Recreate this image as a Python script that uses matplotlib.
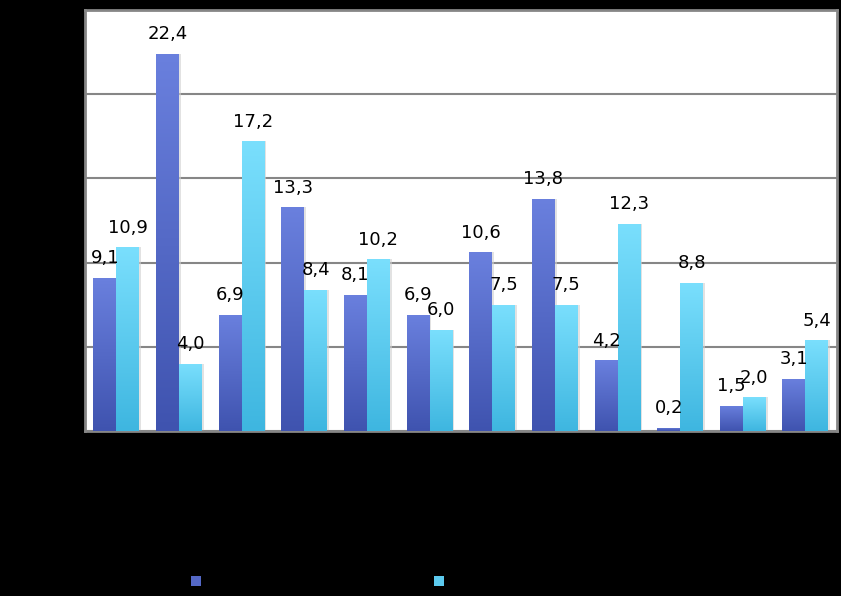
import numpy as np
import matplotlib
matplotlib.use("Agg")
import matplotlib.pyplot as plt
from matplotlib.lines import Line2D
from matplotlib.colors import LinearSegmentedColormap

categories = [str(i) for i in range(1, 13)]
series1_name = "Series 1"
series2_name = "Series 2"
series1 = [9.1, 22.4, 6.9, 13.3, 8.1, 6.9, 10.6, 13.8, 4.2, 0.2, 1.5, 3.1]
series2 = [10.9, 4.0, 17.2, 8.4, 10.2, 6.0, 7.5, 7.5, 12.3, 8.8, 2.0, 5.4]

fig = plt.figure(figsize=(8.41, 5.96), dpi=100, facecolor="black")
ax = fig.add_axes([0.101, 0.277, 0.894, 0.706])
ax.set_facecolor("white")

x = np.arange(len(categories))
w = 0.367
cmap1 = LinearSegmentedColormap.from_list("c1", ["#3F53AF", "#6A80DE"])
cmap2 = LinearSegmentedColormap.from_list("c2", ["#3EB6E0", "#7ADFFD"])
grad = np.linspace(0, 1, 256).reshape(-1, 1)

def draw(vals, offset, cmap, midcol):
    bars = ax.bar(x + offset, vals, w, color=midcol, zorder=3, linewidth=0)
    for b, v in zip(bars, vals):
        x0 = b.get_x()
        im = ax.imshow(grad, cmap=cmap, origin="lower", aspect="auto",
                       extent=[x0, x0 + w, 0, v], zorder=3.1)
        im.set_clip_path(b)
        ax.bar(x0 + w / 2 + 0.03, v, w, color="#d0d0d0", zorder=2.5, linewidth=0, alpha=0.6)
        ax.annotate(f"{v:.1f}".replace(".", ","), (x0 + w / 2, v), xytext=(0, 14),
                    textcoords="offset points", ha="center", va="center",
                    fontsize=13, color="black", zorder=5)

draw(series1, -w / 2, cmap1, "#5468C6")
draw(series2, w / 2, cmap2, "#5CCAEE")

ax.set_xlim(-0.5, len(categories) - 0.5)
ax.set_ylim(0, 25)
ax.set_yticks([0, 5, 10, 15, 20, 25])
ax.yaxis.grid(True, color="#868686", linewidth=1.5, zorder=1)
ax.set_axisbelow(True)
ax.set_xticks(x)
ax.set_xticklabels(categories, color="black")
ax.tick_params(axis="both", length=0, labelcolor="black")
ax.set_yticklabels([])
for s in ax.spines.values():
    s.set_color("#868686")
    s.set_linewidth(2)

handles = [Line2D([], [], marker="s", linestyle="none", markersize=7,
                  markerfacecolor="#5468C6", markeredgewidth=0),
           Line2D([], [], marker="s", linestyle="none", markersize=7,
                  markerfacecolor="#5CCAEE", markeredgewidth=0)]
leg = fig.legend(handles, [series1_name, series2_name], loc="center",
                 bbox_to_anchor=(0.417, 0.024), ncol=2, frameon=False,
                 handlelength=0.8, handletextpad=0.3, columnspacing=10.8,
                 fontsize=11, labelcolor="black")

fig.savefig("out.png", dpi=100, facecolor="black")
